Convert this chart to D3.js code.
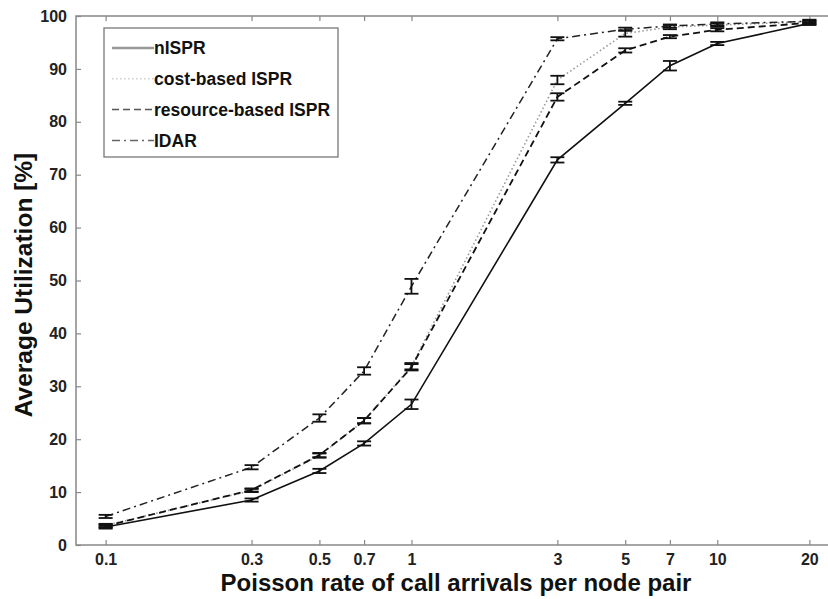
<!DOCTYPE html>
<html>
<head>
<meta charset="utf-8">
<script src="https://cdn.jsdelivr.net/npm/d3@7"></script>
<style>
  body { margin: 0; background: #fff; }
  svg { display: block; font-family: "Liberation Sans", Arial, sans-serif; }
</style>
</head>
<body>
<div id="chart"></div>
<script>
// data
var rates = [0.1, 0.3, 0.5, 0.7, 1, 3, 5, 7, 10, 20];
var xTicks = [0.1, 0.3, 0.5, 0.7, 1, 3, 5, 7, 10, 20];
var yTicks = [0, 10, 20, 30, 40, 50, 60, 70, 80, 90, 100];

var nISPR = [3.4, 8.5, 14.0, 19.2, 26.6, 72.8, 83.5, 90.6, 94.8, 98.6];
var nISPRErr = [0.3, 0.3, 0.4, 0.4, 0.9, 0.5, 0.3, 0.9, 0.3, 0.3];
var costISPR = [3.7, 10.3, 16.9, 23.5, 33.8, 87.9, 96.7, 97.9, 98.3, 98.9];
var costISPRErr = [0.3, 0.3, 0.4, 0.5, 0.6, 0.8, 0.6, 0.4, 0.3, 0.3];
var resourceISPR = [3.6, 10.4, 17.0, 23.5, 33.6, 84.7, 93.5, 96.1, 97.4, 98.7];
var resourceISPRErr = [0.3, 0.3, 0.4, 0.5, 0.6, 0.7, 0.4, 0.3, 0.3, 0.3];
var IDAR = [5.4, 14.7, 24.0, 32.9, 48.9, 95.7, 97.5, 98.1, 98.5, 99.0];
var IDARErr = [0.3, 0.4, 0.7, 0.7, 1.4, 0.3, 0.3, 0.3, 0.3, 0.3];

var series = [
  {name: "nISPR", values: nISPR, err: nISPRErr, dash: null, color: "#111", legendColor: "#999", width: 1.6},
  {name: "cost-based ISPR", values: costISPR, err: costISPRErr, dash: "1.5,2.5", color: "#999", legendColor: "#ccc", width: 1.6},
  {name: "resource-based ISPR", values: resourceISPR, err: resourceISPRErr, dash: "7,4", color: "#111", legendColor: "#555", width: 1.8},
  {name: "IDAR", values: IDAR, err: IDARErr, dash: "8,4,2,4", color: "#222", legendColor: "#666", width: 1.5}
];

var width = 828, height = 599;
var margin = {top: 16, left: 76, bottom: 54};
var plotRight = 839;

var svg = d3.select("#chart").append("svg")
  .attr("width", width)
  .attr("height", height);

var x = d3.scaleLog().domain([0.08, 25]).range([margin.left, plotRight]);
var y = d3.scaleLinear().domain([0, 100]).range([height - margin.bottom, margin.top]);

// frame
svg.append("rect")
  .attr("x", margin.left).attr("y", margin.top)
  .attr("width", plotRight - margin.left)
  .attr("height", y(0) - margin.top)
  .attr("fill", "none").attr("stroke", "#888").attr("stroke-width", 1.5);

// axes, ticks pointing inward like matlab
var xAxis = svg.append("g")
  .attr("transform", "translate(0," + y(0) + ")")
  .call(d3.axisBottom(x).tickValues(xTicks).tickFormat(d3.format("")).tickSizeInner(-5).tickSizeOuter(0).tickPadding(9));
var xTop = svg.append("g")
  .attr("transform", "translate(0," + margin.top + ")")
  .call(d3.axisTop(x).tickValues(xTicks).tickFormat("").tickSizeInner(-5).tickSizeOuter(0));
var yAxis = svg.append("g")
  .attr("transform", "translate(" + margin.left + ",0)")
  .call(d3.axisLeft(y).tickValues(yTicks).tickSizeInner(-5).tickSizeOuter(0).tickPadding(9));

[xAxis, xTop, yAxis].forEach(function(g) {
  g.select(".domain").remove();
  g.selectAll(".tick line").attr("stroke", "#888").attr("stroke-width", 1.2);
  g.selectAll(".tick text")
    .attr("fill", "#222")
    .attr("font-size", 16)
    .attr("font-weight", "bold")
    .attr("font-family", "Liberation Sans, Arial, sans-serif");
});

// lines
var line = d3.line()
  .x(function(d) { return x(d.r); })
  .y(function(d) { return y(d.v); });

series.forEach(function(s) {
  var pts = rates.map(function(r, i) { return {r: r, v: s.values[i], e: s.err[i]}; });
  svg.append("path")
    .datum(pts)
    .attr("d", line)
    .attr("fill", "none")
    .attr("stroke", s.color)
    .attr("stroke-width", s.width)
    .attr("stroke-dasharray", s.dash);

  // error bars
  var eb = svg.append("g").selectAll("g")
    .data(pts)
    .enter().append("g")
    .attr("stroke", "#111")
    .attr("stroke-width", 1.8);
  eb.append("line")
    .attr("x1", function(d) { return x(d.r); })
    .attr("x2", function(d) { return x(d.r); })
    .attr("y1", function(d) { return y(d.v - d.e); })
    .attr("y2", function(d) { return y(d.v + d.e); });
  eb.append("line")
    .attr("x1", function(d) { return x(d.r) - 7; })
    .attr("x2", function(d) { return x(d.r) + 7; })
    .attr("y1", function(d) { return y(d.v - d.e); })
    .attr("y2", function(d) { return y(d.v - d.e); });
  eb.append("line")
    .attr("x1", function(d) { return x(d.r) - 7; })
    .attr("x2", function(d) { return x(d.r) + 7; })
    .attr("y1", function(d) { return y(d.v + d.e); })
    .attr("y2", function(d) { return y(d.v + d.e); });
});

// legend
var legend = svg.append("g").attr("transform", "translate(104,28)");
legend.append("rect")
  .attr("width", 234).attr("height", 129)
  .attr("fill", "#fff").attr("stroke", "#777").attr("stroke-width", 1.3);
var item = legend.selectAll(".item")
  .data(series)
  .enter().append("g")
  .attr("transform", function(d, i) { return "translate(0," + (20 + i * 30.8) + ")"; });
item.append("line")
  .attr("x1", 8).attr("x2", 50)
  .attr("stroke", function(d) { return d.legendColor; })
  .attr("stroke-width", function(d, i) { return i == 0 ? 2.5 : 1.5; })
  .attr("stroke-dasharray", function(d) { return d.dash; });
item.append("text")
  .attr("x", 50).attr("dy", "0.36em")
  .attr("font-size", 17.5)
  .attr("font-weight", "bold")
  .attr("fill", "#111")
  .text(function(d) { return d.name; });

// axis titles
svg.append("text")
  .attr("x", 456).attr("y", 591)
  .attr("text-anchor", "middle")
  .attr("font-size", 24)
  .attr("font-weight", "bold")
  .attr("fill", "#111")
  .text("Poisson rate of call arrivals per node pair");
svg.append("text")
  .attr("transform", "translate(32,285) rotate(-90)")
  .attr("text-anchor", "middle")
  .attr("font-size", 24.5)
  .attr("font-weight", "bold")
  .attr("fill", "#111")
  .text("Average Utilization [%]");
</script>
</body>
</html>
